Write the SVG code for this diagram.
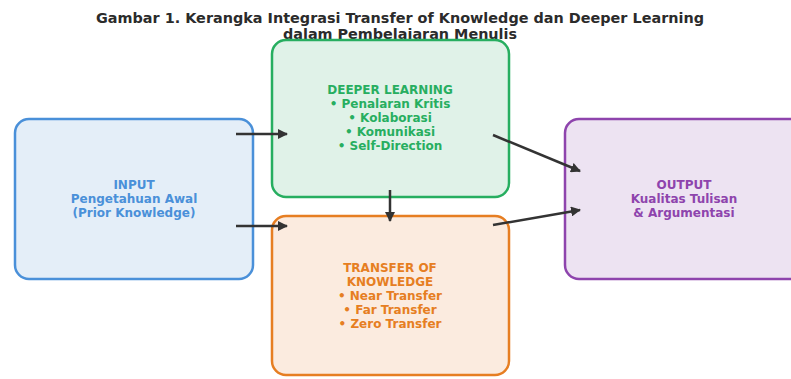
<svg xmlns="http://www.w3.org/2000/svg" width="791" height="379" viewBox="0 0 791 379">
<defs>
<style>
.t{font-family:"DejaVu Sans","Liberation Sans",sans-serif;font-weight:bold;text-anchor:middle}
.title{font-size:14.5px;fill:#2b2b2b}
.lbl{font-size:12px}
.box{stroke-width:2.5}
.conn{stroke:#333;stroke-width:2.5;fill:none;marker-end:url(#ah)}
</style>
<marker id="ah" viewBox="0 0 10 10" refX="9" refY="5" markerWidth="4" markerHeight="4" orient="auto" markerUnits="strokeWidth">
<path d="M0,0 L10,5 L0,10 z" fill="#333"/>
</marker>
</defs>
<rect width="791" height="379" fill="#fff"/>
<g id="title">
<text class="t title" x="400" y="23" textLength="608" lengthAdjust="spacingAndGlyphs">Gambar 1. Kerangka Integrasi Transfer of Knowledge dan Deeper Learning</text>
<text class="t title" x="400" y="39" textLength="234" lengthAdjust="spacingAndGlyphs">dalam Pembelajaran Menulis</text>
</g>
<g id="input">
<rect class="box" x="15" y="119" width="238" height="160" rx="14" fill="#e4eef8" stroke="#4a90d9"/>
<text class="t lbl" fill="#4a90d9" x="134" y="189">INPUT</text>
<text class="t lbl" fill="#4a90d9" x="134" y="203">Pengetahuan Awal</text>
<text class="t lbl" fill="#4a90d9" x="134" y="217">(Prior Knowledge)</text>
</g>
<g id="deeper">
<rect class="box" x="272" y="40" width="237" height="157" rx="14" fill="#e0f2e8" stroke="#27ae60"/>
<text class="t lbl" fill="#27ae60" x="390" y="94">DEEPER LEARNING</text>
<text class="t lbl" fill="#27ae60" x="390" y="108">• Penalaran Kritis</text>
<text class="t lbl" fill="#27ae60" x="390" y="122">• Kolaborasi</text>
<text class="t lbl" fill="#27ae60" x="390" y="136">• Komunikasi</text>
<text class="t lbl" fill="#27ae60" x="390" y="150">• Self-Direction</text>
</g>
<g id="transfer">
<rect class="box" x="272" y="216" width="237" height="159" rx="14" fill="#fbebdf" stroke="#e67e22"/>
<text class="t lbl" fill="#e67e22" x="390" y="272">TRANSFER OF</text>
<text class="t lbl" fill="#e67e22" x="390" y="286">KNOWLEDGE</text>
<text class="t lbl" fill="#e67e22" x="390" y="300">• Near Transfer</text>
<text class="t lbl" fill="#e67e22" x="390" y="314">• Far Transfer</text>
<text class="t lbl" fill="#e67e22" x="390" y="328">• Zero Transfer</text>
</g>
<g id="output">
<rect class="box" x="565" y="119" width="240" height="160" rx="14" fill="#ede3f2" stroke="#8e44ad"/>
<text class="t lbl" fill="#8e44ad" x="684" y="189">OUTPUT</text>
<text class="t lbl" fill="#8e44ad" x="684" y="203">Kualitas Tulisan</text>
<text class="t lbl" fill="#8e44ad" x="684" y="217">&amp; Argumentasi</text>
</g>
<g id="connectors">
<line class="conn" x1="236" y1="134" x2="287" y2="134"/>
<line class="conn" x1="236" y1="226" x2="287" y2="226"/>
<line class="conn" x1="390" y1="190" x2="390" y2="221"/>
<line class="conn" x1="493" y1="135" x2="580" y2="171"/>
<line class="conn" x1="493" y1="225" x2="580" y2="210"/>
</g>
</svg>
